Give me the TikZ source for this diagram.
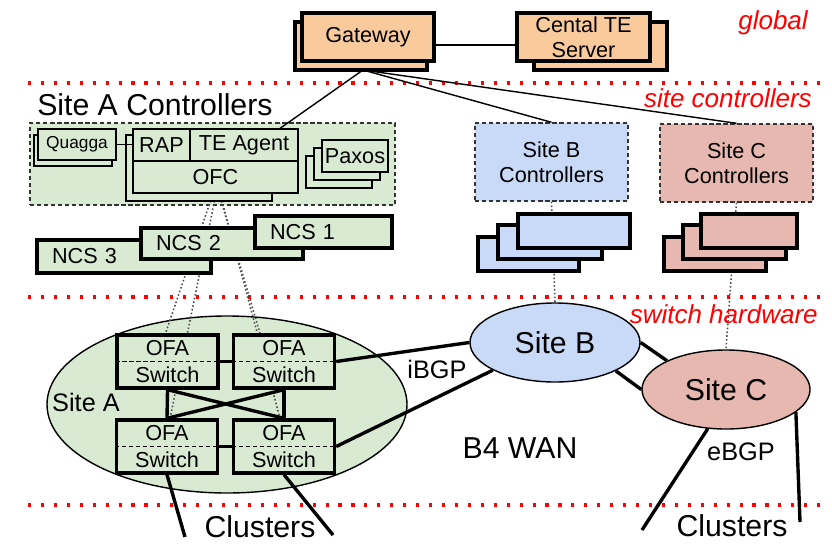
\documentclass[tikz,border=0pt]{standalone}
\usepackage{fontspec}
\setmainfont{Liberation Sans}
\usepackage{tikz}
\usetikzlibrary{shapes.geometric,positioning}

\newcommand\pxu{0.025cm}
\definecolor{gwfill}{HTML}{F9CB9C}
\definecolor{safill}{HTML}{D9EAD3}
\definecolor{sbfill}{HTML}{C9DAF8}
\definecolor{scfill}{HTML}{E6B8AF}

\pgfdeclarelayer{back}
\pgfdeclarelayer{mid}
\pgfsetlayers{back,mid,main}

\tikzset{
	hw/.style={draw, line width=2.4pt},
	thinbox/.style={draw, line width=0.9pt, fill=safill},
	dbox/.style={draw=black!80, line width=1pt, dash pattern=on 3pt off 2pt},
	conn/.style={line width=1pt},
	link/.style={line width=2.4pt},
	oflink/.style={black!70, line width=1.1pt, dash pattern=on 1.1pt off 1.6pt},
	layerline/.style={red, line width=2.2pt, dash pattern=on 2.2pt off 7pt},
	redlab/.style={red, font=\fontsize{18.5}{22}\selectfont\itshape},
	bigfont/.style={font=\fontsize{21.5}{25}\selectfont},
	midfont/.style={font=\fontsize{18}{21}\selectfont},
	smallfont/.style={font=\fontsize{12.3}{14}\selectfont},
	ofa/.style={hw, fill=safill, minimum width=101*\pxu, minimum height=53*\pxu, align=center, font=\fontsize{15.4}{19}\selectfont},
	ncs/.style={hw, fill=safill, align=left, inner xsep=15*\pxu},
	site/.style={ellipse, draw, line width=1pt, bigfont}
}

\begin{document}
\begin{tikzpicture}[x=0.025cm, y=-0.025cm, inner sep=0pt, font=\fontsize{15.4}{17.7}\selectfont]
	\useasboundingbox (0,0) rectangle (832,545);

	% layers
	\begin{pgfonlayer}{back}
		\foreach \y in {83,297,505}
			\draw[layerline] (28,\y) -- (822,\y);
		\node[dbox, fill=safill, minimum width=365*\pxu, minimum height=82*\pxu] (sactl) at (212.5,164) {};
		\node[site, fill=safill, minimum width=360*\pxu, minimum height=177*\pxu] (sitea) at (227,404.5) {};
		\node[site, fill=sbfill, minimum width=170*\pxu, minimum height=79*\pxu] (siteb) at (555,342.5) {Site B};
		\node[site, fill=scfill, minimum width=168*\pxu, minimum height=79*\pxu] (sitec) at (726,389.5) {Site C};
	\end{pgfonlayer}
	\node[redlab, anchor=base east] (lglobal) at (808,30) {global};
	\node[redlab, anchor=base east] (lsite) at (812,107) {site controllers};
	\node[redlab, anchor=base east] (lswitch) at (818,323) {switch hardware};

	% global
	\draw[hw, fill=gwfill] (295,22) rectangle (427,70);
	\node[hw, fill=gwfill, minimum width=132*\pxu, minimum height=48*\pxu] (gw) at (368,37) {Gateway};
	\draw[hw, fill=gwfill] (534,22) rectangle (667,70);
	\node[hw, fill=gwfill, minimum width=133*\pxu, minimum height=48*\pxu, align=center] (te) at (583.5,37) {Cental TE\\Server};
	\draw[conn] ([yshift=-8*\pxu]gw.east) -- ([yshift=-8*\pxu]te.west);

	% site A controllers
	\node[bigfont, anchor=base west] (satitle) at (37,115) {Site A Controllers};
	\draw[thinbox] (34,135) rectangle (112,166);
	\node[thinbox, minimum width=78*\pxu, minimum height=31*\pxu, smallfont] (quagga) at (77,144.5) {Quagga};
	\draw[thinbox] (126,135) rectangle (272,201);
	\node[thinbox, minimum width=165*\pxu, minimum height=64*\pxu] (ctl) at (215.5,161) {};
	\draw[conn] (ctl.west) -- (ctl.east);
	\draw[conn] (190,129) -- (190,161);
	\node (rap) at (161.5,145) {RAP};
	\node (teagent) at (244,145) {TE Agent};
	\node (ofc) at (215.5,177) {OFC};
	\draw[conn] (quagga.east) -- (quagga.east -| ctl.west);
	\foreach \d in {16,8}
		\draw[thinbox] (322-\d,140+\d) rectangle (388-\d,172+\d);
	\node[thinbox, minimum width=66*\pxu, minimum height=32*\pxu] (paxos) at (355,156) {Paxos};

	% site B and C controllers
	\node[dbox, fill=sbfill, minimum width=153*\pxu, minimum height=78*\pxu, align=center] (sbc) at (551.5,162) {Site B\\Controllers};
	\node[dbox, fill=scfill, minimum width=153*\pxu, minimum height=78*\pxu, align=center] (scc) at (736.5,163) {Site C\\Controllers};
	\coordinate (gwfoot) at (363,70);
	\draw[conn] (gwfoot) -- ([xshift=64.5*\pxu]ctl.north);
	\draw[conn] (gwfoot) -- (sbc.north);
	\draw[conn] (gwfoot) -- (scc.north);

	% switches
	\node[ofa] (sw1) at (167.5,361.5) {OFA\\Switch};
	\node[ofa] (sw2) at (284,361.5) {OFA\\Switch};
	\node[ofa] (sw3) at (167,446.5) {OFA\\Switch};
	\node[ofa] (sw4) at (284,446.5) {OFA\\Switch};
	\foreach \s in {sw1,sw2,sw3,sw4}
		\draw[conn, dash pattern=on 3pt off 2pt] (\s.west) -- (\s.east);

	% control links
	\begin{pgfonlayer}{mid}
		\foreach \s/\dx/\ex in {sw1/-2.5/-2, sw3/0.5/3, sw2/3.5/-24, sw4/4.5/-4}
			\draw[oflink] ([xshift=\dx*\pxu]ctl.south) -- ([xshift=\ex*\pxu]\s.north);
		\draw[oflink] (sbc.south) -- (siteb.north);
		\draw[oflink] (scc.south) -- (sitec.north);
	\end{pgfonlayer}

	\node[ncs, minimum height=33*\pxu, text width=144*\pxu] (ncs3) at (124,256.5) {NCS 3};
	\node[ncs, minimum height=31*\pxu, text width=132*\pxu] (ncs2) at (222,243.5) {NCS 2};
	\node[ncs, minimum height=32*\pxu, text width=107*\pxu] (ncs1) at (323.5,232) {NCS 1};
	\foreach \x/\y/\w in {478/237/101, 498/225/104, 518/214/112}
		\draw[hw, fill=sbfill] (\x,\y) rectangle +(\w,34);
	\foreach \x/\y/\w in {664/237/102, 683/225/103, 701/214/96}
		\draw[hw, fill=scfill] (\x,\y) rectangle +(\w,34);

	% data links
	\draw[link] (sw1.east) -- (sw2.west);
	\draw[link] (sw3.east) -- (sw4.west);
	\draw[link] (sw1.south) -- (sw3.north);
	\draw[link] (sw2.south) -- (sw4.north);
	\draw[link] (sw1.south) -- (sw4.north);
	\draw[link] (sw2.south) -- (sw3.north);
	\draw[link] (sw2.east) -- (siteb.west);
	\draw[link] (sw4.east) -- (siteb.204);
	\draw[link] (siteb.east) -- (sitec.154);
	\draw[link] (siteb.335) -- (sitec.west);
	\coordinate (cl1) at (185,537);
	\coordinate (cl2) at (333,535);
	\coordinate (cl3) at (642,530);
	\coordinate (cl4) at (800,522);
	\draw[link] (sw3.south) -- (cl1);
	\draw[link] (sw4.south) -- (cl2);
	\draw[link] (sitec.245) -- (cl3);
	\draw[link] (sitec.342) -- (cl4);

	\node[midfont] (satext) at (86,402) {Site A};
	\node[midfont] (ibgp) at (437,369) {iBGP};
	\node[midfont] (ebgp) at (741,452) {eBGP};
	\node[bigfont] (wan) at (520,448) {B4 WAN};
	\node[bigfont] (clusa) at (260,527) {Clusters};
	\node[bigfont] (clusc) at (732,526) {Clusters};
\end{tikzpicture}
\end{document}
